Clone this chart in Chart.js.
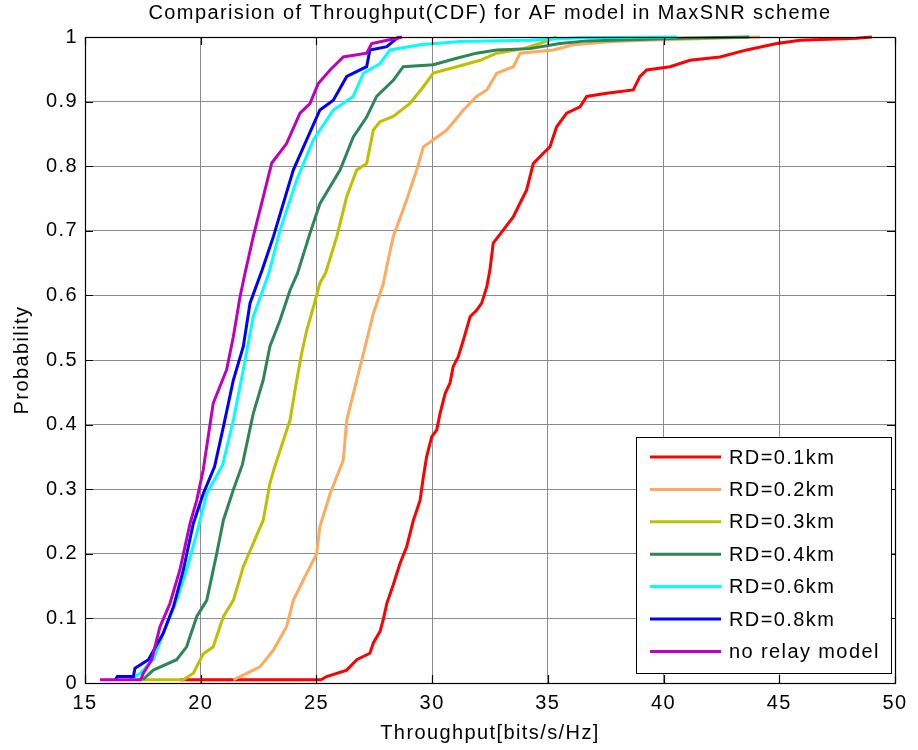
<!DOCTYPE html>
<html>
<head>
<meta charset="utf-8">
<script src="https://cdn.jsdelivr.net/npm/chart.js@4.4.1/dist/chart.umd.min.js"></script>
<style>
  html, body { margin: 0; padding: 0; background: #fff; }
  #wrap { width: 918px; height: 750px; }
</style>
</head>
<body>
<div id="wrap"><canvas id="c" width="918" height="750"></canvas></div>
<script>
// ---- data ----
const xTicks = [15, 20, 25, 30, 35, 40, 45, 50];
const yTicks = [0, 0.1, 0.2, 0.3, 0.4, 0.5, 0.6, 0.7, 0.8, 0.9, 1];
const seriesLabels = ['RD=0.1km', 'RD=0.2km', 'RD=0.3km', 'RD=0.4km', 'RD=0.6km', 'RD=0.8km', 'no relay model'];
const seriesColors = ['#ff0000', '#ffaa60', '#bfbf00', '#2e8555', '#00ffff', '#0000ff', '#bf00bf'];

const rd01X = [19.1, 25.2, 25.44, 26.31, 26.74, 27.31, 27.46, 27.75, 27.9, 28.04, 28.32, 28.61, 28.90, 29.19, 29.48, 29.62, 29.76, 29.98, 30.20, 30.34, 30.56, 30.77, 30.91, 31.13, 31.35, 31.64, 31.92, 32.14, 32.36, 32.5, 32.64, 33.07, 33.51, 33.80, 34.08, 34.37, 34.80, 35.09, 35.38, 35.81, 36.39, 36.68, 37.54, 38.69, 38.98, 39.27, 40.28, 41.14, 42.44, 43.59, 44.89, 45.90, 48.35, 49.0];
const rd01P = [0.005, 0.005, 0.01, 0.02, 0.036, 0.046, 0.062, 0.08, 0.1, 0.123, 0.152, 0.185, 0.211, 0.252, 0.283, 0.319, 0.350, 0.381, 0.392, 0.417, 0.448, 0.464, 0.490, 0.505, 0.531, 0.567, 0.577, 0.588, 0.613, 0.64, 0.681, 0.701, 0.722, 0.743, 0.763, 0.804, 0.820, 0.830, 0.861, 0.882, 0.892, 0.908, 0.913, 0.918, 0.939, 0.949, 0.954, 0.964, 0.969, 0.98, 0.99, 0.995, 0.998, 1.0];

const rd02X = [21.41, 21.99, 22.56, 23.14, 23.71, 24.0, 24.58, 25.01, 25.15, 25.59, 26.16, 26.31, 26.74, 27.03, 27.46, 27.89, 28.04, 28.32, 28.90, 29.33, 29.62, 30.05, 30.63, 31.35, 31.92, 32.36, 32.79, 33.51, 33.80, 35.24, 36.10, 37.83, 39.27, 44.17];
const rd02P = [0.005, 0.015, 0.025, 0.051, 0.087, 0.128, 0.17, 0.2, 0.242, 0.293, 0.345, 0.407, 0.469, 0.51, 0.572, 0.618, 0.645, 0.691, 0.748, 0.794, 0.830, 0.841, 0.856, 0.887, 0.908, 0.918, 0.944, 0.954, 0.975, 0.98, 0.988, 0.993, 0.995, 1.0];

const rd03X = [17.38, 19.25, 19.68, 20.11, 20.54, 20.98, 21.41, 21.84, 22.27, 22.70, 22.99, 23.2, 23.86, 24.15, 24.36, 24.58, 24.87, 25.15, 25.4, 25.88, 26.31, 26.74, 27.17, 27.46, 27.75, 28.32, 29.04, 29.62, 30.05, 31.06, 32.07, 32.79, 33.94, 34.66, 35.38];
const rd03P = [0.005, 0.005, 0.015, 0.045, 0.056, 0.103, 0.128, 0.18, 0.216, 0.252, 0.309, 0.335, 0.407, 0.469, 0.51, 0.546, 0.582, 0.619, 0.635, 0.691, 0.753, 0.794, 0.804, 0.856, 0.869, 0.877, 0.897, 0.923, 0.944, 0.954, 0.964, 0.975, 0.982, 0.99, 1.0];

const rd04X = [17.5, 17.95, 18.96, 19.39, 19.83, 20.26, 20.69, 20.98, 21.41, 21.8, 22.27, 22.70, 22.99, 23.43, 23.86, 24.18, 24.72, 25.15, 26.02, 26.59, 27.17, 27.60, 28.32, 28.75, 30.05, 31.06, 31.92, 32.79, 34.23, 35.52, 36.68, 40.7, 43.7];
const rd04P = [0.005, 0.02, 0.036, 0.056, 0.103, 0.128, 0.2, 0.252, 0.299, 0.338, 0.417, 0.469, 0.521, 0.562, 0.608, 0.634, 0.696, 0.742, 0.794, 0.845, 0.876, 0.908, 0.933, 0.954, 0.957, 0.967, 0.975, 0.98, 0.982, 0.99, 0.994, 0.998, 1.0];

const rd06X = [16.94, 17.38, 17.95, 18.38, 18.96, 19.39, 19.83, 20.26, 20.6, 20.95, 21.41, 21.84, 22.27, 22.95, 23.43, 24.15, 24.87, 25.73, 26.59, 27.03, 27.75, 28.18, 29.48, 31.2, 34.23, 36.39, 40.57];
const rd06P = [0.005, 0.015, 0.036, 0.077, 0.128, 0.175, 0.232, 0.293, 0.315, 0.338, 0.407, 0.485, 0.567, 0.635, 0.701, 0.779, 0.841, 0.887, 0.908, 0.944, 0.959, 0.98, 0.988, 0.993, 0.995, 0.999, 1.0];

const rd08X = [16.3, 16.4, 17.09, 17.16, 17.74, 18.38, 18.82, 19.25, 19.68, 20.11, 20.6, 21.0, 21.41, 21.84, 22.13, 22.65, 23.14, 24.0, 24.58, 25.15, 25.73, 26.31, 27.17, 27.31, 28.04, 28.47, 28.6];
const rd08P = [0.005, 0.01, 0.01, 0.023, 0.036, 0.077, 0.118, 0.175, 0.247, 0.293, 0.335, 0.4, 0.469, 0.521, 0.588, 0.639, 0.691, 0.794, 0.841, 0.887, 0.902, 0.939, 0.954, 0.98, 0.985, 0.998, 1.0];

const noRelayX = [15.65, 17.4, 17.52, 17.88, 18.24, 18.67, 19.10, 19.54, 19.83, 20.11, 20.54, 21.12, 21.41, 21.70, 21.9, 22.27, 22.63, 23.07, 23.71, 24.29, 24.72, 25.08, 25.59, 26.16, 27.17, 27.39, 28.47, 28.7];
const noRelayP = [0.005, 0.005, 0.015, 0.036, 0.087, 0.123, 0.175, 0.247, 0.283, 0.33, 0.433, 0.485, 0.536, 0.598, 0.632, 0.691, 0.742, 0.805, 0.835, 0.882, 0.897, 0.928, 0.949, 0.969, 0.975, 0.99, 0.998, 1.0];

const seriesX = [rd01X, rd02X, rd03X, rd04X, rd06X, rd08X, noRelayX];
const seriesP = [rd01P, rd02P, rd03P, rd04P, rd06P, rd08P, noRelayP];

// ---- chart ----
const FONT = 'Liberation Sans, Arial, Helvetica, sans-serif';
const SPACING = '1.4px';
const LINE_W = 3;

const datasets = seriesLabels.map((lab, i) => ({
  label: lab,
  data: seriesX[i].map((x, k) => ({ x: x, y: seriesP[i][k] })),
  borderColor: seriesColors[i],
  backgroundColor: seriesColors[i],
  borderWidth: LINE_W,
  pointRadius: 0,
  tension: 0,
  fill: false,
  clip: 4,
  order: seriesLabels.length - i
}));

const framePlugin = {
  id: 'frame',
  beforeUpdate(c) { c.ctx.letterSpacing = SPACING; },
  beforeDraw(c) {
    const ctx = c.ctx;
    ctx.letterSpacing = SPACING;
    ctx.save();
    ctx.fillStyle = '#fff';
    ctx.fillRect(0, 0, c.width, c.height);
    ctx.restore();
  },
  afterDatasetsDraw(c) {
    const ctx = c.ctx;
    const a = c.chartArea;
    const xs = c.scales.x, ys = c.scales.y;
    ctx.save();
    ctx.strokeStyle = '#000';
    ctx.lineWidth = 1.2;
    ctx.strokeRect(Math.round(a.left) + 0.5, Math.round(a.top) + 0.5,
                   Math.round(a.right - a.left), Math.round(a.bottom - a.top));
    const tl = 8;
    ctx.beginPath();
    xTicks.forEach(v => {
      const px = Math.round(xs.getPixelForValue(v)) + 0.5;
      ctx.moveTo(px, a.bottom); ctx.lineTo(px, a.bottom - tl);
      ctx.moveTo(px, a.top); ctx.lineTo(px, a.top + tl);
    });
    yTicks.forEach(v => {
      const py = Math.round(ys.getPixelForValue(v)) + 0.5;
      ctx.moveTo(a.left, py); ctx.lineTo(a.left + tl, py);
      ctx.moveTo(a.right, py); ctx.lineTo(a.right - tl, py);
    });
    ctx.stroke();

    // legend
    const L = 636.5, T = 437.5, W = 255, H = 236;
    ctx.fillStyle = '#fff';
    ctx.fillRect(L, T, W, H);
    ctx.lineWidth = 1;
    ctx.strokeStyle = '#000';
    ctx.strokeRect(L, T, W, H);
    ctx.font = '20px ' + FONT;
    ctx.letterSpacing = SPACING;
    ctx.textBaseline = 'middle';
    ctx.textAlign = 'left';
    seriesLabels.forEach((lab, i) => {
      const yy = 457 + i * 32.4;
      ctx.strokeStyle = seriesColors[i];
      ctx.lineWidth = LINE_W;
      ctx.beginPath();
      ctx.moveTo(650, yy); ctx.lineTo(721, yy);
      ctx.stroke();
      ctx.fillStyle = '#000';
      ctx.fillText(lab, 729, yy + 1);
    });
    ctx.restore();
  }
};

new Chart(document.getElementById('c'), {
  type: 'line',
  data: { datasets },
  plugins: [framePlugin],
  options: {
    responsive: false,
    animation: false,
    devicePixelRatio: 1,
    layout: { padding: { left: 0, right: 23, top: 0, bottom: 0 } },
    plugins: {
      legend: { display: false },
      tooltip: { enabled: false },
      title: {
        display: true,
        text: 'Comparision of Throughput(CDF) for AF model in MaxSNR scheme',
        color: '#000',
        font: { family: FONT, size: 20, weight: 'normal', lineHeight: 1.2 },
        padding: { top: 1, bottom: 12 },
        fullSize: false
      }
    },
    scales: {
      x: {
        type: 'linear',
        min: 15, max: 50,
        afterBuildTicks(s) { s.ticks = xTicks.map(v => ({ value: v })); },
        afterFit(s) { s.height = 67; },
        ticks: { color: '#000', font: { family: FONT, size: 20 }, padding: 8, maxRotation: 0, autoSkip: false },
        grid: { color: '#8c8c8c', lineWidth: 1, drawTicks: false },
        border: { display: false },
        title: {
          display: true, text: 'Throughput[bits/s/Hz]', color: '#000',
          font: { family: FONT, size: 20, lineHeight: 1.2 },
          padding: { top: 0, bottom: 5 }
        }
      },
      y: {
        type: 'linear',
        min: 0, max: 1,
        afterBuildTicks(s) { s.ticks = yTicks.map(v => ({ value: v })); },
        afterFit(s) { s.width = 85; },
        ticks: {
          color: '#000', font: { family: FONT, size: 20 }, padding: 7, autoSkip: false,
          callback: v => String(Math.round(v * 10) / 10)
        },
        grid: { color: '#8c8c8c', lineWidth: 1, drawTicks: false },
        border: { display: false },
        title: {
          display: true, text: 'Probability', color: '#000',
          font: { family: FONT, size: 20, lineHeight: 1.2 },
          padding: { top: 10, bottom: 0 }
        }
      }
    }
  }
});
</script>
</body>
</html>
